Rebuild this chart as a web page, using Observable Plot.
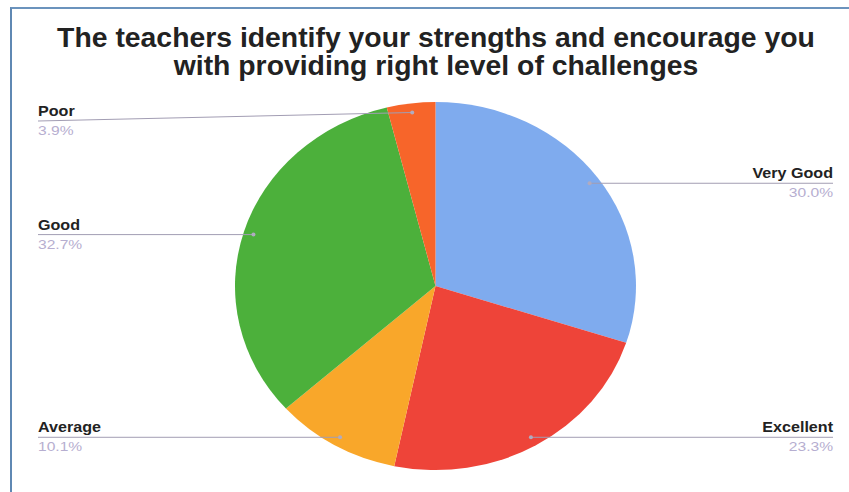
<!DOCTYPE html>
<html>
<head>
<meta charset="utf-8">
<script src="https://cdn.jsdelivr.net/npm/d3@7"></script>
<script src="https://cdn.jsdelivr.net/npm/@observablehq/plot@0.6"></script>
<style>
  html, body { margin: 0; padding: 0; background: #fff; }
  #wrap { position: relative; width: 849px; height: 492px; overflow: hidden; background: #fff; }
  #frame { position: absolute; left: 10px; top: 7px; right: 0; bottom: -5px;
           border-top: 2px solid #6b93bd; border-left: 2px solid #5f88b3; }
  #title { position: absolute; left: 0; width: 872px; top: 24px; text-align: center;
           font-family: "Liberation Sans", Arial, sans-serif; font-weight: bold;
           font-size: 27px; line-height: 28px; color: #222;
           transform: scaleX(1.05); transform-origin: 436px 0; }
  #chart { position: absolute; left: 0; top: 0; }
</style>
</head>
<body>
<div id="wrap">
  <div id="frame"></div>
  <div id="chart"></div>
  <div id="title">The teachers identify your strengths and encourage you<br>with providing right level of challenges</div>
</div>
<script>
// Data (clockwise from 12 o'clock)
const categories = ["Very Good", "Excellent", "Average", "Good", "Poor"];
const percents = [30.0, 23.3, 10.1, 32.7, 3.9];
const colors = ["#7fabee", "#ee4439", "#f9a72a", "#4cb03b", "#f7652a"];

const data = categories.map((c, i) => ({category: c, value: percents[i], color: colors[i]}));
const total = d3.sum(percents);
let acc = 0;
for (const d of data) {
  d.start = acc / total * 2 * Math.PI;
  acc += d.value;
  d.end = acc / total * 2 * Math.PI;
  d.mid = (d.start + d.end) / 2;
  d.side = Math.sin(d.mid) >= 0 ? "right" : "left";
}

const W = 849, H = 492;

function pieMark(index, scales, values, dims, context) {
  const {x, y} = scales;
  const cx = x(0), cy = y(0), rx = x(1) - x(0), ry = y(0) - y(1);
  const g = d3.create("svg:g");
  const arc = d3.arc().innerRadius(0).outerRadius(1);
  g.selectAll("path").data(data).join("path")
    .attr("transform", `translate(${cx},${cy}) scale(${rx},${ry})`)
    .attr("d", d => arc({startAngle: d.start, endAngle: d.end}))
    .attr("fill", d => d.color);

  // leader lines + labels
  const leftX = 38, rightX = 833, minY = 121;
  for (const d of data) {
    const px = cx + Math.sin(d.mid) * 0.95 * rx;
    const py = cy - Math.cos(d.mid) * 0.95 * ry;
    const ly = Math.max(py, minY);
    const lx = d.side === "right" ? rightX : leftX;
    const anchor = d.side === "right" ? "end" : "start";
    g.append("line").attr("x1", lx).attr("y1", ly).attr("x2", px).attr("y2", py)
      .attr("stroke", "#a29db3").attr("stroke-width", 1);
    g.append("circle").attr("cx", px).attr("cy", py).attr("r", 2).attr("fill", "#b0abc0");
    g.append("text").attr("transform", `translate(${lx},${ly - 5}) scale(1.15,1)`)
      .attr("text-anchor", anchor)
      .attr("font-family", "Liberation Sans, Arial, sans-serif").attr("font-weight", "bold")
      .attr("font-size", 14).attr("fill", "#222").text(d.category);
    g.append("text").attr("transform", `translate(${lx},${ly + 14}) scale(1.3,1)`)
      .attr("text-anchor", anchor)
      .attr("font-family", "Liberation Sans, Arial, sans-serif")
      .attr("font-size", 12).attr("fill", "#b6aed0").text(d.value.toFixed(1) + "%");
  }
  return g.node();
}

const plot = Plot.plot({
  width: W,
  height: H,
  margin: 0,
  x: {domain: [-1, 1], range: [235, 636], axis: null},
  y: {domain: [-1, 1], range: [470, 102], axis: null},
  style: {background: "transparent", overflow: "visible"},
  marks: [pieMark]
});
document.getElementById("chart").appendChild(plot);
</script>
</body>
</html>
